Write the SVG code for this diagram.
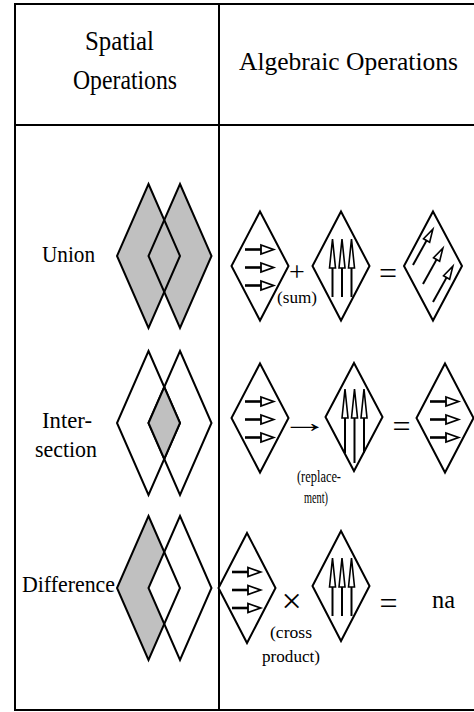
<svg xmlns="http://www.w3.org/2000/svg" xmlns:xlink="http://www.w3.org/1999/xlink" width="474" height="712" viewBox="0 0 474 712" font-family="Liberation Serif, 'Times New Roman', serif">
<style>
  .ln { stroke: #000; stroke-width: 2; fill: none; }
  .dw { stroke: #000; stroke-width: 2; fill: #fff; stroke-linejoin: miter; }
  .dg { stroke: #000; stroke-width: 2; fill: #c0c0c0; stroke-linejoin: miter; }
  .dn { stroke: #000; stroke-width: 2; fill: none; stroke-linejoin: miter; }
  .fg { fill: #c0c0c0; stroke: none; }
  .fw { fill: #fff; stroke: none; }
</style>
<defs>
  <g id="ha" stroke="#000">
    <line x1="-15" y1="0" x2="1.5" y2="0" stroke-width="2.6"/>
    <polygon points="1,-4.5 13.5,0 1,4.5" fill="#fff" stroke-width="1.8"/>
  </g>
  <g id="vh" stroke="#000">
    <polygon points="-3,1 0,-28 3,1" fill="#fff" stroke-width="1.6"/>
  </g>
  <g id="sa" stroke="#000">
    <line x1="0" y1="0" x2="29" y2="0" stroke-width="2"/>
    <polygon points="28,-3.5 41,0 28,3.5" fill="#fff" stroke-width="1.6"/>
  </g>
</defs>
<rect width="474" height="712" fill="#fff"/>

<g id="table">
  <line class="ln" x1="15" y1="4" x2="474" y2="4"/>
  <line class="ln" x1="15" y1="3" x2="15" y2="711"/>
  <line class="ln" x1="15" y1="710" x2="474" y2="710"/>
  <line class="ln" x1="219" y1="4" x2="219" y2="710"/>
  <line class="ln" x1="15" y1="125" x2="474" y2="125"/>
</g>

<g id="header-spatial" font-size="27">
  <text x="85" y="50" textLength="69" lengthAdjust="spacingAndGlyphs">Spatial</text>
  <text x="73" y="89" textLength="104" lengthAdjust="spacingAndGlyphs">Operations</text>
</g>
<g id="header-algebraic" font-size="25">
  <text x="239" y="70" textLength="219" lengthAdjust="spacingAndGlyphs">Algebraic Operations</text>
</g>

<!-- Union row -->
<g id="label-union" font-size="24">
  <text x="42" y="262" textLength="53" lengthAdjust="spacingAndGlyphs">Union</text>
</g>
<g id="spatial-union">
  <path class="fg" d="M148.5,184 L180,256 L148.5,328 L117,256 Z"/>
  <path class="fg" d="M180,184 L211.5,256 L180,328 L148.5,256 Z"/>
  <path class="dn" d="M148.5,184 L180,256 L148.5,328 L117,256 Z"/>
  <path class="dn" d="M180,184 L211.5,256 L180,328 L148.5,256 Z"/>
</g>
<g id="alg-union-a">
  <path class="dw" d="M260,211.5 L288.5,266 L260,320.5 L231.5,266 Z"/>
  <use xlink:href="#ha" href="#ha" x="260" y="249.5"/>
  <use xlink:href="#ha" href="#ha" x="260" y="267.5"/>
  <use xlink:href="#ha" href="#ha" x="260" y="285.5"/>
</g>
<g id="op-sum">
  <text x="297" y="281" font-size="28" text-anchor="middle">+</text>
  <text x="277" y="303" font-size="17" textLength="40" lengthAdjust="spacingAndGlyphs">(sum)</text>
</g>
<g id="alg-union-b">
  <path class="dw" d="M341,211.5 L369.5,266 L341,320.5 L312.5,266 Z"/>
  <g stroke="#000" stroke-width="2">
    <line x1="332.5" y1="268" x2="332.5" y2="297"/>
    <line x1="342" y1="268" x2="342" y2="297"/>
    <line x1="351.5" y1="268" x2="351.5" y2="297"/>
  </g>
  <use xlink:href="#vh" href="#vh" x="332.5" y="267"/>
  <use xlink:href="#vh" href="#vh" x="342" y="267"/>
  <use xlink:href="#vh" href="#vh" x="351.5" y="267"/>
</g>
<g id="op-eq-union">
  <text x="388" y="284" font-size="32" text-anchor="middle">=</text>
</g>
<g id="alg-union-c">
  <path class="dw" d="M433,211.5 L462,266 L433,320.5 L404,266 Z"/>
  <use xlink:href="#sa" href="#sa" transform="translate(413,265) rotate(-61)"/>
  <use xlink:href="#sa" href="#sa" transform="translate(423,284) rotate(-61)"/>
  <use xlink:href="#sa" href="#sa" transform="translate(433,302) rotate(-61)"/>
</g>

<!-- Intersection row -->
<g id="label-intersection" font-size="24">
  <text x="42" y="428" textLength="50" lengthAdjust="spacingAndGlyphs">Inter-</text>
  <text x="35" y="457" textLength="62" lengthAdjust="spacingAndGlyphs">section</text>
</g>
<g id="spatial-intersection">
  <path class="dw" d="M148.5,351 L180,423 L148.5,495 L117,423 Z"/>
  <path class="dn" d="M180,351 L211.5,423 L180,495 L148.5,423 Z"/>
  <path class="dg" d="M148.5,423 L164.25,387 L180,423 L164.25,459 Z"/>
</g>
<g id="alg-intersection-a">
  <path class="dw" d="M260,363.5 L288.5,418 L260,472.5 L231.5,418 Z"/>
  <use xlink:href="#ha" href="#ha" x="260" y="401.5"/>
  <use xlink:href="#ha" href="#ha" x="260" y="419.5"/>
  <use xlink:href="#ha" href="#ha" x="260" y="437.5"/>
</g>
<g id="op-replacement">
  <text transform="translate(305,432) scale(1.7,1)" font-size="28" text-anchor="middle">→</text>
  <text x="297" y="482" font-size="17" textLength="44" lengthAdjust="spacingAndGlyphs">(replace-</text>
  <text x="304" y="503" font-size="17" textLength="24" lengthAdjust="spacingAndGlyphs">ment)</text>
</g>
<g id="alg-intersection-b">
  <path class="dw" d="M354,363 L382.5,417 L354,471 L325.5,417 Z"/>
  <g stroke="#000" stroke-width="2">
    <line x1="345" y1="418" x2="345" y2="453"/>
    <line x1="354.5" y1="418" x2="354.5" y2="463"/>
    <line x1="364" y1="418" x2="364" y2="453"/>
  </g>
  <use xlink:href="#vh" href="#vh" x="345" y="417"/>
  <use xlink:href="#vh" href="#vh" x="354.5" y="417"/>
  <use xlink:href="#vh" href="#vh" x="364" y="417"/>
</g>
<g id="op-eq-intersection">
  <text x="401.5" y="437" font-size="32" text-anchor="middle">=</text>
</g>
<g id="alg-intersection-c">
  <path class="dw" d="M445,363.5 L473.5,418 L445,472.5 L416.5,418 Z"/>
  <use xlink:href="#ha" href="#ha" x="445" y="401.5"/>
  <use xlink:href="#ha" href="#ha" x="445" y="419.5"/>
  <use xlink:href="#ha" href="#ha" x="445" y="437.5"/>
</g>

<!-- Difference row -->
<g id="label-difference" font-size="24">
  <text x="22" y="592" textLength="93" lengthAdjust="spacingAndGlyphs">Difference</text>
</g>
<g id="spatial-difference">
  <path class="fg" d="M148.5,516 L180,588 L148.5,660 L117,588 Z"/>
  <path class="fw" d="M148.5,588 L164.25,552 L180,588 L164.25,624 Z"/>
  <path class="dn" d="M148.5,516 L180,588 L148.5,660 L117,588 Z"/>
  <path class="dn" d="M180,516 L211.5,588 L180,660 L148.5,588 Z"/>
</g>
<g id="alg-difference-a">
  <path class="dw" d="M247,533 L275.5,588 L247,643 L218.5,588 Z"/>
  <use xlink:href="#ha" href="#ha" x="247" y="572"/>
  <use xlink:href="#ha" href="#ha" x="247" y="590"/>
  <use xlink:href="#ha" href="#ha" x="247" y="608"/>
</g>
<g id="op-cross">
  <text x="291.7" y="613" font-size="36" text-anchor="middle">×</text>
  <text x="270" y="638" font-size="17" textLength="42" lengthAdjust="spacingAndGlyphs">(cross</text>
  <text x="262" y="662" font-size="17" textLength="58" lengthAdjust="spacingAndGlyphs">product)</text>
</g>
<g id="alg-difference-b">
  <path class="dw" d="M341,531 L369.5,586 L341,641 L312.5,586 Z"/>
  <g stroke="#000" stroke-width="2">
    <line x1="332.5" y1="587" x2="332.5" y2="616"/>
    <line x1="342" y1="587" x2="342" y2="616"/>
    <line x1="351.5" y1="587" x2="351.5" y2="616"/>
  </g>
  <use xlink:href="#vh" href="#vh" x="332.5" y="586"/>
  <use xlink:href="#vh" href="#vh" x="342" y="586"/>
  <use xlink:href="#vh" href="#vh" x="351.5" y="586"/>
</g>
<g id="op-eq-difference">
  <text x="388.5" y="614" font-size="32" text-anchor="middle">=</text>
</g>
<g id="result-na">
  <text x="432" y="608" font-size="25" textLength="23" lengthAdjust="spacingAndGlyphs">na</text>
</g>
</svg>
